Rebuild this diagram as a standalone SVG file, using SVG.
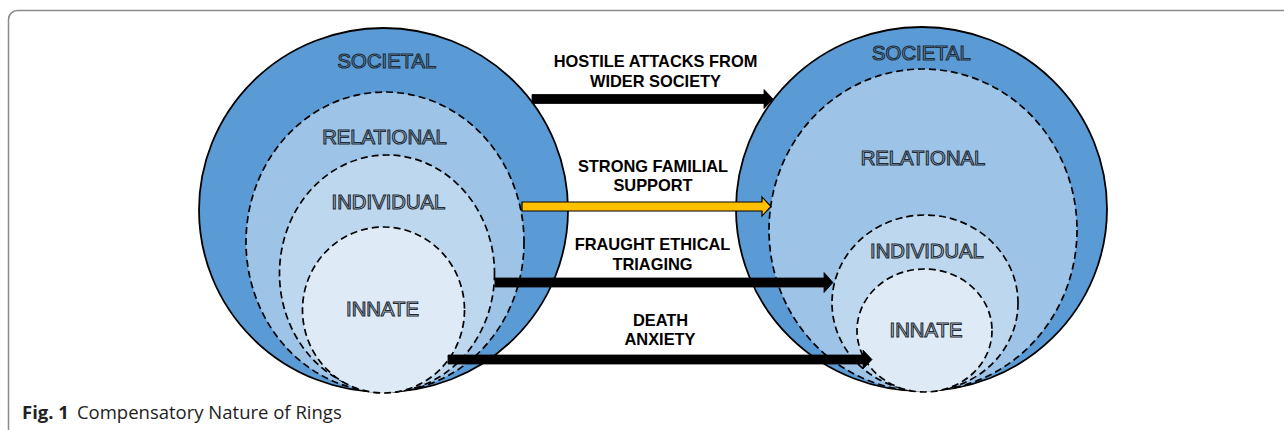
<svg xmlns="http://www.w3.org/2000/svg" width="1284" height="430" viewBox="0 0 1284 430">
<style>
.soc{fill:#5B9BD5;stroke:#000;stroke-width:1.8}
.rel{fill:#9DC3E6;stroke:#000;stroke-width:1.7;stroke-dasharray:7 4}
.ind{fill:#BDD7EE;stroke:#000;stroke-width:1.7;stroke-dasharray:7 4}
.inn{fill:#DEEBF7;stroke:#000;stroke-width:1.7;stroke-dasharray:7 4}
.ring{font-family:"Liberation Sans",Arial,sans-serif;font-size:20.3px;text-anchor:middle;stroke:#222a33;stroke-width:1.1}
.lsoc{fill:#5B9BD5}.lrel{fill:#9DC3E6}.lind{fill:#BDD7EE}.linn{fill:#DEEBF7}
.lab{font-family:"Liberation Sans",Arial,sans-serif;font-size:16.4px;font-weight:bold;text-anchor:middle;fill:#000}
.arr{fill:#000;stroke:#000;stroke-width:0.8}
.arry{fill:#FFC000;stroke:#000;stroke-width:1.2}
.cap{font-family:"Open Sans","Noto Sans",sans-serif;font-size:18.5px;fill:#222}
</style>
<rect x="8.5" y="10.5" width="1300" height="500" rx="9" fill="#fff" stroke="#8a8a8a" stroke-width="1.5"/>
<g id="left-rings">
<g id="left-societal"><ellipse class="soc" cx="383.5" cy="210" rx="184.5" ry="182"/><text class="ring lsoc" x="387" y="68">SOCIETAL</text></g>
<g id="left-relational"><ellipse class="rel" cx="385" cy="242" rx="139" ry="150"/><text class="ring lrel" x="384.5" y="144">RELATIONAL</text></g>
<g id="left-individual"><ellipse class="ind" cx="387" cy="273.5" rx="107.5" ry="118.5"/><text class="ring lind" x="388.5" y="209">INDIVIDUAL</text></g>
<g id="left-innate"><ellipse class="inn" cx="383.5" cy="310" rx="81" ry="83"/><text class="ring linn" x="382.5" y="316">INNATE</text></g>
</g>
<g id="right-rings">
<g id="right-societal"><ellipse class="soc" cx="921.5" cy="209" rx="185.5" ry="182"/><text class="ring lsoc" x="921.5" y="60">SOCIETAL</text></g>
<g id="right-relational"><ellipse class="rel" cx="923" cy="230" rx="154" ry="161"/><text class="ring lrel" x="923" y="165">RELATIONAL</text></g>
<g id="right-individual"><ellipse class="ind" cx="925" cy="303" rx="93" ry="88"/><text class="ring lind" x="927" y="258">INDIVIDUAL</text></g>
<g id="right-innate"><ellipse class="inn" cx="924.5" cy="330.5" rx="67.5" ry="61.5"/><text class="ring linn" x="926" y="337">INNATE</text></g>
</g>
<g id="connectors">
<path class="arr" d="M532,94.5 H764 V89.5 L773,99 L764,108.5 V103.5 H532 Z"/>
<path class="arry" d="M522,202 H762 V197 L771,206.5 L762,216 V211 H522 Z"/>
<path class="arr" d="M495,278 H824 V272.5 L833,282.5 L824,292.5 V287 H495 Z"/>
<path class="arr" d="M448,355 H863 V350 L872,359.5 L863,369 V364 H448 Z"/>
</g>
<g id="labels">
<text class="lab" x="655.5" y="66.5">HOSTILE ATTACKS FROM</text>
<text class="lab" x="655.5" y="86.5">WIDER SOCIETY</text>
<text class="lab" x="653" y="171.5">STRONG FAMILIAL</text>
<text class="lab" x="653" y="190.5">SUPPORT</text>
<text class="lab" x="652.5" y="250">FRAUGHT ETHICAL</text>
<text class="lab" x="652.5" y="269.5">TRIAGING</text>
<text class="lab" x="660.5" y="326">DEATH</text>
<text class="lab" x="660" y="345">ANXIETY</text>
</g>
<text class="cap" x="22" y="419"><tspan font-weight="bold">Fig. 1</tspan><tspan dx="8">Compensatory Nature of Rings</tspan></text>
</svg>
